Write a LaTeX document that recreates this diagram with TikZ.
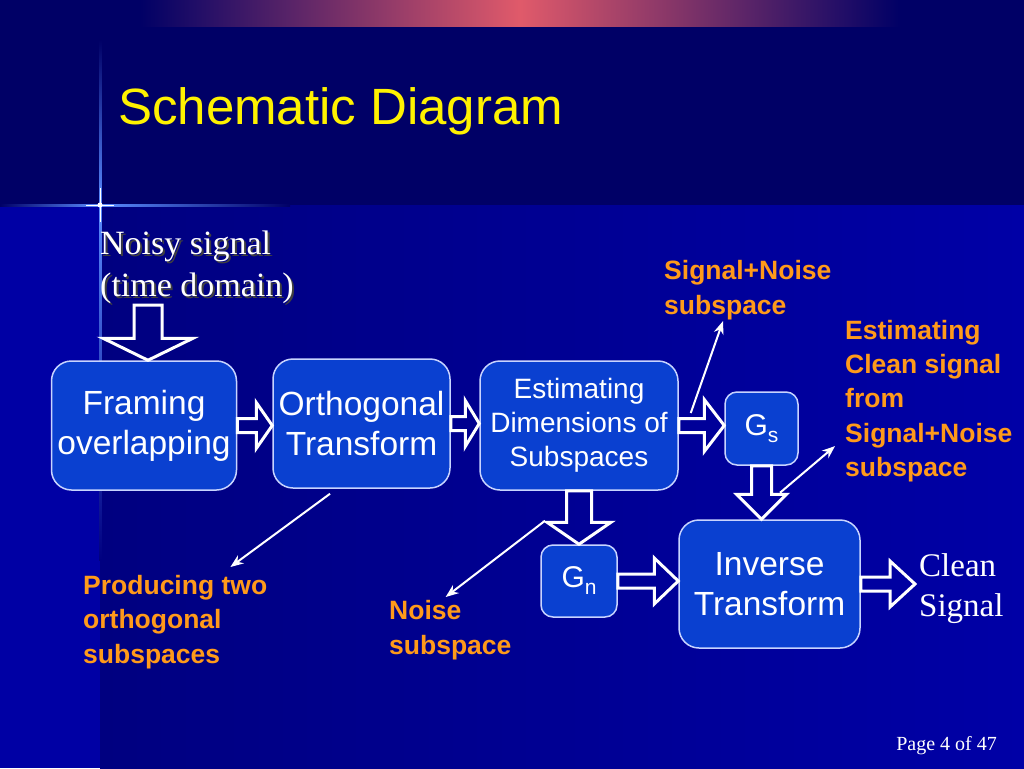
\documentclass[tikz,border=0pt]{standalone}
\usepackage{fontspec}
\setmainfont{Liberation Sans}
\newfontfamily\timesfont{Liberation Serif}
\usetikzlibrary{positioning,calc,arrows.meta}

\definecolor{navytop}{HTML}{000066}
\definecolor{navylow}{HTML}{000080}
\definecolor{navyright}{HTML}{0000A6}
\definecolor{stripblue}{HTML}{0000A4}
\definecolor{boxblue}{HTML}{0A40D0}
\definecolor{boxline}{HTML}{C8D4FF}
\definecolor{labelorange}{HTML}{FF9A1A}
\definecolor{barred}{HTML}{E05A6A}
\definecolor{glowblue}{HTML}{5A8CFF}

\newcommand{\gsub}[2]{#1\raisebox{-7pt}{\fontsize{21}{21}\selectfont #2}}

\tikzset{
  block/.style={draw=boxline, line width=1.5pt, fill=boxblue, rounded corners=20pt,
    text=white, align=center, inner sep=0pt},
  bigtext/.style={font=\fontsize{33.5}{40}\selectfont},
  smalltext/.style={font=\fontsize{28}{34}\selectfont},
  note/.style={text=labelorange, align=left, inner sep=0pt, anchor=north west,
    font=\bfseries\fontsize{26.5}{34.5}\selectfont},
  serif/.style={text=white, align=left, inner sep=0pt, anchor=north west},
  pointer/.style={draw=white, line width=2pt, -{Stealth[length=13pt,width=10pt]}},
  fat/.style={draw=white, line width=3pt, line join=miter},
  fatright/.style n args={3}{to path={
    let \p1=(\tikztostart), \p2=(\tikztotarget) in
    (\x1,\y1+#1pt) -- (\x2-#3pt,\y1+#1pt) -- (\x2-#3pt,\y1+#2pt) -- (\x2,\y1)
    -- (\x2-#3pt,\y1-#2pt) -- (\x2-#3pt,\y1-#1pt) -- (\x1,\y1-#1pt) -- cycle}},
  fatdown/.style n args={3}{to path={
    let \p1=(\tikztostart), \p2=(\tikztotarget) in
    (\x1-#1pt,\y1) -- (\x1-#1pt,\y2+#3pt) -- (\x1-#2pt,\y2+#3pt) -- (\x1,\y2)
    -- (\x1+#2pt,\y2+#3pt) -- (\x1+#1pt,\y2+#3pt) -- (\x1+#1pt,\y1) -- cycle}},
}

\begin{document}
\begin{tikzpicture}[x=1pt,y=-1pt]
  \useasboundingbox (0,0) rectangle (1024,768);
  % backdrop
  \fill[navytop] (0,0) rectangle (1024,205);
  \shade[left color=navylow, right color=navyright] (100,205) rectangle (1024,768);
  \fill[stripblue] (0,205) rectangle (100,768);
  \shade[left color=navytop, right color=navytop, middle color=barred] (140,0) rectangle (900,27);
  \shade[top color=navytop, bottom color=glowblue] (99,40) rectangle (101.5,205);
  \shade[top color=glowblue, bottom color=navylow] (99,205) rectangle (101.5,560);
  \shade[left color=navytop, right color=glowblue] (0,204) rectangle (100,206.5);
  \shade[left color=glowblue, right color=navytop] (100,204) rectangle (290,206.5);
  \draw[white, line width=1pt] (100,188) -- (100,222) (86,205) -- (114,205);
  \fill[white] (100,205) circle (2.5);

  \node[anchor=base west, inner sep=0pt, text=yellow, font=\fontsize{51}{60}\selectfont]
    (title) at (118,124) {Schematic Diagram};

  % blocks
  \node[block, bigtext, minimum width=185pt, minimum height=129pt] (frame) at (144,425.5) {Framing\\overlapping};
  \node[block, bigtext, minimum width=177pt, minimum height=129pt] (ortho) at (361.5,423.5) {Orthogonal\\Transform};
  \node[block, smalltext, minimum width=198pt, minimum height=129pt] (est) at (579,425.5) {Estimating\\Dimensions of\\Subspaces};
  \node[block, font=\fontsize{30}{36}\selectfont, minimum size=73pt, rounded corners=12pt] (gs) at (761.5,428.5) {\gsub{G}{s}};
  \node[block, font=\fontsize{30}{36}\selectfont, minimum width=76pt, minimum height=72pt, rounded corners=12pt] (gn) at (579,581) {\gsub{G}{n}};
  \node[block, bigtext, minimum width=181pt, minimum height=128pt] (inv) at (769.5,584) {Inverse\\Transform};

  % texts
  \node[serif, text=black!75, font=\timesfont\fontsize{34}{42}\selectfont] (noisyshadow) at (102,233) {Noisy signal\\(time domain)};
  \node[serif, font=\timesfont\fontsize{34}{42}\selectfont] (noisy) at (100,231) {Noisy signal\\(time domain)};
  \node[serif, font=\timesfont\fontsize{33}{40}\selectfont] (clean) at (919,553.5) {Clean\\Signal};
  \node[anchor=base east, inner sep=0pt, text=white, font=\timesfont\fontsize{20}{24}\selectfont] (page) at (997,750) {Page 4 of 47};

  \node[note] (twosub) at (83,575) {Producing two\\orthogonal\\subspaces};
  \node[note, font=\bfseries\fontsize{26.5}{35}\selectfont] (noisesub) at (389,600) {Noise\\subspace};
  \node[note, font=\bfseries\fontsize{26.5}{35}\selectfont] (signoise) at (664,260) {Signal+Noise\\subspace};
  \node[note, font=\bfseries\fontsize{26.5}{34.25}\selectfont] (cleanest) at (845,320) {Estimating\\Clean signal\\from\\Signal+Noise\\subspace};

  % fat arrows
  \coordinate (noisyend) at (148,305);
  \draw[fat] (noisyend) to[fatdown={14}{45}{22}] (frame.north);
  \draw[fat] (frame.east) to[fatright={7}{23}{16}] (ortho.west);
  \draw[fat] (ortho.east) to[fatright={7}{23}{14}] (est.west);
  \draw[fat] (est.east) to[fatright={7}{26}{20}] (gs.west);
  \draw[fat] (est.south) to[fatdown={12.5}{32}{22}] (gn.north);
  \draw[fat] (gs.south) to[fatdown={10}{25}{25}] (inv.north);
  \draw[fat] (gn.east) to[fatright={7}{23}{24}] (inv.west);
  \draw[fat] (inv.east) to[fatright={7}{23}{25}] ([xshift=-4pt]clean.west);

  % pointers
  \draw[pointer] ([xshift=-31.5pt,yshift=-5pt]ortho.south) -- ([xshift=-37pt,yshift=8pt]twosub.north east);
  \draw[pointer] ([xshift=-34pt,yshift=-30pt]est.south) -- ([xshift=-66pt,yshift=3pt]noisesub.north east);
  \draw[pointer] ([xshift=12pt,yshift=12.5pt]est.east) -- ([xshift=59pt,yshift=-1pt]signoise.south west);
  \draw[pointer] ([xshift=18.5pt,yshift=-27pt]gs.south) -- ([xshift=-10pt,yshift=36pt]cleanest.south west);
\end{tikzpicture}
\end{document}
